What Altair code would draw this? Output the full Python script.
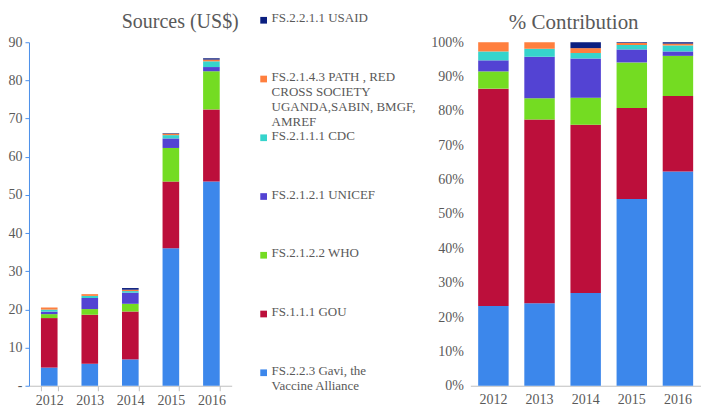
import altair as alt
import pandas as pd

years = ["2012", "2013", "2014", "2015", "2016"]
sources = [
    "FS.2.2.3 Gavi, the Vaccine Alliance",
    "FS.1.1.1 GOU",
    "FS.2.1.2.2 WHO",
    "FS.2.1.2.1 UNICEF",
    "FS.2.1.1.1 CDC",
    "FS.2.1.4.3 PATH , RED CROSS SOCIETY UGANDA,SABIN, BMGF, AMREF",
    "FS.2.2.1.1 USAID",
]
legend_labels = [
    "FS.2.2.3 Gavi, the\nVaccine Alliance",
    "FS.1.1.1 GOU",
    "FS.2.1.2.2 WHO",
    "FS.2.1.2.1 UNICEF",
    "FS.2.1.1.1 CDC",
    "FS.2.1.4.3 PATH , RED\nCROSS SOCIETY\nUGANDA,SABIN, BMGF,\nAMREF",
    "FS.2.2.1.1 USAID",
]
colors = ["#3C87EB", "#BC0F3B", "#74DC22", "#5343D3", "#36D4CC", "#FF7F3E", "#0B1F80"]

gavi = [4.76, 5.76, 6.91, 36.0, 53.5]
gou = [12.97, 12.84, 12.54, 17.5, 18.9]
who = [1.03, 1.49, 2.02, 8.8, 10.0]
unicef = [0.66, 2.90, 2.92, 2.5, 1.1]
cdc = [0.53, 0.55, 0.41, 0.86, 1.5]
path = [0.55, 0.46, 0.36, 0.4, 0.45]
usaid = [0.0, 0.0, 0.44, 0.13, 0.35]

series = [gavi, gou, who, unicef, cdc, path, usaid]
rows = []
for k, (src, vals) in enumerate(zip(sources, series)):
    for y, v in zip(years, vals):
        rows.append({"year": y, "source": src, "value": v, "order": k})
df = pd.DataFrame(rows)

leg = pd.DataFrame({"source": sources, "label": legend_labels, "rank": list(range(7))})

FONT = "Liberation Serif"
GRAY = "#595959"
color_scale = alt.Scale(domain=sources, range=colors)
H = 344

left = alt.Chart(df).mark_bar().encode(
    x=alt.X("year:N", title=None,
            scale=alt.Scale(paddingInner=0.59, paddingOuter=0.295),
            axis=alt.Axis(labelAngle=0, tickBand="extent", domainColor="#BFBFBF",
                          tickColor="#BFBFBF", tickSize=5, labelFont=FONT, labelFontSize=14,
                          labelColor=GRAY, labelPadding=3)),
    y=alt.Y("value:Q", title=None, stack="zero",
            scale=alt.Scale(domain=[0, 90], nice=False),
            axis=alt.Axis(values=list(range(0, 91, 10)), grid=False, domainColor="#4A8FEA",
                          tickColor="#4A8FEA", tickSize=4, labelPadding=3, labelFont=FONT,
                          labelFontSize=14, labelColor=GRAY,
                          labelExpr="datum.value == 0 ? '-' : datum.label")),
    color=alt.Color("source:N", scale=color_scale, legend=None),
    order=alt.Order("order:Q"),
).properties(
    width=203, height=H,
    title=alt.TitleParams("Sources (US$)", font=FONT, fontSize=20, color=GRAY,
                          fontWeight="normal", dx=50, offset=3),
)

legend_base = alt.Chart(leg).encode(
    y=alt.Y("rank:Q", scale=alt.Scale(domain=[-0.221, 5.626], nice=False, zero=False), axis=None),
)
legend_sym = legend_base.mark_square(size=45, opacity=1).encode(
    x=alt.value(32),
    color=alt.Color("source:N", scale=color_scale, legend=None),
)
legend_txt = legend_base.mark_text(align="left", baseline="top", dy=-8, lineBreak="\n",
                                   font=FONT, fontSize=13, lineHeight=15, color=GRAY).encode(
    x=alt.value(40),
    text="label:N",
)
legend = alt.layer(legend_sym, legend_txt).properties(width=239, height=H)

right = alt.Chart(df).mark_bar().encode(
    x=alt.X("year:N", title=None,
            scale=alt.Scale(paddingInner=0.34, paddingOuter=0.17),
            axis=alt.Axis(labelAngle=0, ticks=False, domainColor="#BFBFBF", labelFont=FONT,
                          labelFontSize=14, labelColor=GRAY, labelPadding=7)),
    y=alt.Y("value:Q", title=None, stack="normalize",
            axis=alt.Axis(format=".0%", values=[i / 10 for i in range(11)], grid=False,
                          domain=False, ticks=False, labelPadding=7, labelFont=FONT,
                          labelFontSize=14, labelColor=GRAY)),
    color=alt.Color("source:N", scale=color_scale, legend=None),
    order=alt.Order("order:Q"),
).properties(
    width=231, height=H,
    title=alt.TitleParams("% Contribution", font=FONT, fontSize=21, color=GRAY,
                          fontWeight="normal", dx=-12, offset=2),
)

chart = alt.hconcat(left, legend, right, spacing=0, bounds="flush").properties(
    padding={"left": 0, "top": 3, "right": 0, "bottom": 0}
).configure_view(stroke=None)

chart.save("out.html", embed_options={"renderer": "svg", "actions": False})
